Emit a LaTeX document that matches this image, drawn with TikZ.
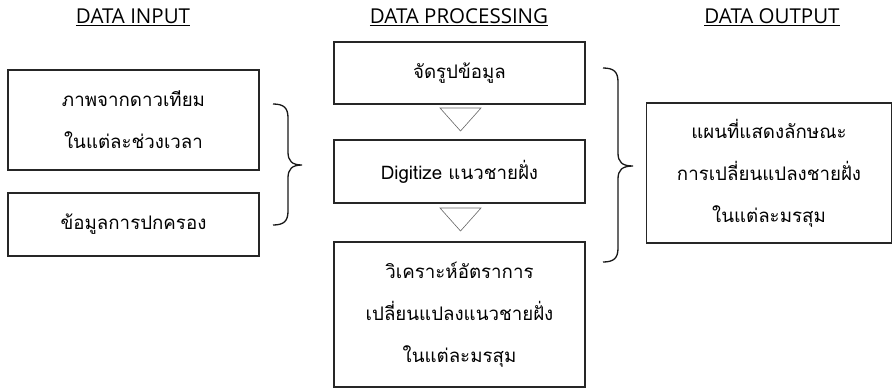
\documentclass[tikz,border=0pt]{standalone}
\usepackage{fontspec}
\setmainfont[Script=Thai]{Loma}
\newfontfamily\hdfont{Open Sans}
\begin{document}
\begin{tikzpicture}[x=1pt,y=-1pt,
  box/.style={draw=black!85,line width=1.3pt,inner sep=0pt,align=center,font=\fontsize{18.7}{42}\selectfont},
  hd/.style={font=\hdfont\fontsize{20.5}{22}\selectfont,inner sep=0pt},
  tri/.style={draw=black!60,line width=0.6pt},
  brc/.style={draw=black!90,line width=1.3pt}]
\useasboundingbox (0,0) rectangle (893,389);
% headers
\node[hd] (h1) at (133,17) {\underline{DATA INPUT}};
\node[hd] (h2) at (459,17) {\underline{DATA PROCESSING}};
\node[hd] (h3) at (772,17) {\underline{DATA OUTPUT}};
% left column
\node[box,minimum width=251pt,minimum height=100pt] (i1) at (133.5,120) {ภาพจากดาวเทียม\\ในแต่ละช่วงเวลา};
\node[box,minimum width=251pt,minimum height=63pt] (i2) at (133.5,224.5) {ข้อมูลการปกครอง};
% middle column
\node[box,minimum width=251pt,minimum height=62pt] (p1) at (459.5,73) {จัดรูปข้อมูล};
\node[box,minimum width=251pt,minimum height=63pt] (p2) at (459.5,171.5) {Digitize แนวชายฝั่ง};
\node[box,minimum width=251pt,minimum height=145pt] (p3) at (459.5,314.5) {วิเคราะห์อัตราการ\\เปลี่ยนแปลงแนวชายฝั่ง\\ในแต่ละมรสุม};
% right column
\node[box,minimum width=245pt,minimum height=140pt] (o1) at (769,173) {แผนที่แสดงลักษณะ\\การเปลี่ยนแปลงชายฝั่ง\\ในแต่ละมรสุม};
% triangles
\coordinate (t1a) at (440,108); \coordinate (t1b) at (481,108); \coordinate (t1c) at (460.5,131);
\draw[tri] (t1a) -- (t1b) -- (t1c) -- cycle;
\coordinate (t2a) at (440,208); \coordinate (t2b) at (481,208); \coordinate (t2c) at (460.5,231);
\draw[tri] (t2a) -- (t2b) -- (t2c) -- cycle;
% braces
\coordinate (b1s) at (273,104); \coordinate (b1t) at (302,165); \coordinate (b1e) at (273,225);
\draw[brc] (b1s) .. controls (284,104) and (288,108) .. (288,118) -- (288,152)
  .. controls (288,161) and (292,165) .. (b1t)
  .. controls (292,165) and (288,169) .. (288,178) -- (288,211)
  .. controls (288,221) and (284,225) .. (b1e);
\coordinate (b2s) at (603,68); \coordinate (b2t) at (633,166); \coordinate (b2e) at (603,262);
\draw[brc] (b2s) .. controls (614,68) and (618,72) .. (618,82) -- (618,153)
  .. controls (618,162) and (622,166) .. (b2t)
  .. controls (622,166) and (618,170) .. (618,179) -- (618,248)
  .. controls (618,258) and (614,262) .. (b2e);
\end{tikzpicture}
\end{document}
